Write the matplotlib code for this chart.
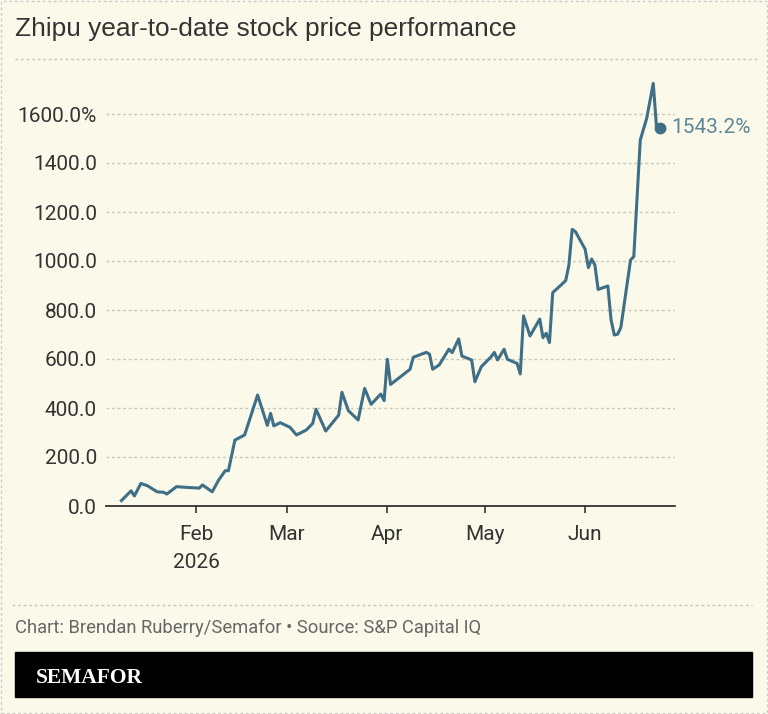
import matplotlib
matplotlib.use('Agg')
import matplotlib.pyplot as plt
from matplotlib.patches import Rectangle
from matplotlib.lines import Line2D
import pandas as pd

# Zhipu year-to-date price change (%)
dates = ['2026-01-09', '2026-01-12', '2026-01-13', '2026-01-15', '2026-01-17',
         '2026-01-20', '2026-01-22', '2026-01-23', '2026-01-26', '2026-01-29',
         '2026-02-02', '2026-02-03', '2026-02-06', '2026-02-08', '2026-02-10',
         '2026-02-11', '2026-02-13', '2026-02-16', '2026-02-20', '2026-02-23',
         '2026-02-24', '2026-02-25', '2026-02-27', '2026-03-02', '2026-03-04',
         '2026-03-07', '2026-03-09', '2026-03-10', '2026-03-13', '2026-03-17',
         '2026-03-18', '2026-03-20', '2026-03-23', '2026-03-25', '2026-03-27',
         '2026-03-30', '2026-03-31', '2026-04-01', '2026-04-02', '2026-04-08',
         '2026-04-09', '2026-04-13', '2026-04-14', '2026-04-15', '2026-04-17',
         '2026-04-20', '2026-04-21', '2026-04-23', '2026-04-24', '2026-04-27',
         '2026-04-28', '2026-04-30', '2026-05-03', '2026-05-04', '2026-05-05',
         '2026-05-07', '2026-05-08', '2026-05-11', '2026-05-12', '2026-05-13',
         '2026-05-15', '2026-05-18', '2026-05-19', '2026-05-20', '2026-05-21',
         '2026-05-22', '2026-05-24', '2026-05-26', '2026-05-27', '2026-05-28',
         '2026-05-29', '2026-06-01', '2026-06-02', '2026-06-03', '2026-06-04',
         '2026-06-05', '2026-06-08', '2026-06-09', '2026-06-10', '2026-06-11',
         '2026-06-12', '2026-06-15', '2026-06-16', '2026-06-18', '2026-06-20',
         '2026-06-22', '2026-06-23', '2026-06-24']
values = [22, 62, 41, 92, 83,
          58, 56, 49, 79, 76,
          73, 86, 58, 106, 144,
          144, 269, 290, 453, 329,
          378, 327, 340, 321, 290,
          310, 337, 395, 306, 371,
          464, 389, 351, 480, 415,
          457, 430, 599, 496, 558,
          607, 627, 620, 558, 576,
          640, 626, 682, 612, 596,
          507, 569, 609, 627, 596,
          640, 599, 582, 539, 776,
          694, 763, 687, 705, 667,
          871, 895, 920, 984, 1129,
          1120, 1048, 973, 1008, 984,
          884, 898, 759, 698, 701,
          728, 1004, 1018, 1494, 1583,
          1725, 1548, 1543.2]

month_ticks = ['2026-02-01', '2026-03-01', '2026-04-01', '2026-05-01', '2026-06-01']
month_labels = ['Feb\n2026', 'Mar', 'Apr', 'May', 'Jun']
y_ticks = [0, 200, 400, 600, 800, 1000, 1200, 1400, 1600]
y_labels = ['0.0', '200.0', '400.0', '600.0', '800.0', '1000.0', '1200.0', '1400.0', '1600.0%']

title = 'Zhipu year-to-date stock price performance'
credit = 'Chart: Brendan Ruberry/Semafor \u2022 Source: S&P Capital IQ'

bg = '#fbf9ea'
line_col = '#3e6f86'
label_col = '#5d8798'
grid_col = '#c9c7b7'
text_col = '#333333'

x = pd.to_datetime(dates)

W, H = 768, 714
fig = plt.figure(figsize=(W / 100, H / 100), dpi=100, facecolor=bg)

ax = fig.add_axes([106 / W, 1 - 506 / H, (675 - 106) / W, (506 - 65) / H])
ax.set_facecolor(bg)
ax.plot(x, values, color=line_col, lw=2.2, solid_joinstyle='round', zorder=3)
ax.plot(x[-1:], values[-1:], 'o', color=line_col, ms=7.5, zorder=4)
ax.annotate('%.1f%%' % values[-1], (x[-1], values[-1]), xytext=(8, 0),
            textcoords='offset points', va='center', ha='left',
            color=label_col, fontsize=15, family='Roboto')

ax.set_ylim(0, 1800)
ax.set_xlim(pd.Timestamp('2026-01-04 06:00'), pd.Timestamp('2026-06-28 17:00'))

ax.set_yticks(y_ticks)
ax.set_yticklabels(y_labels)
ax.set_xticks(pd.to_datetime(month_ticks))
ax.set_xticklabels(month_labels, linespacing=1.6)

ax.tick_params(axis='y', length=0, pad=6.5, labelsize=15, labelcolor=text_col)
ax.tick_params(axis='x', length=5, width=1.2, color=text_col, pad=8.5,
               labelsize=15, labelcolor=text_col)
for lab in ax.get_xticklabels() + ax.get_yticklabels():
    lab.set_family('Roboto')

ax.grid(axis='y', color=grid_col, ls=(0, (2, 2)), lw=1)
ax.grid(axis='x', visible=False)
for s in ['left', 'right', 'top']:
    ax.spines[s].set_visible(False)
ax.spines['bottom'].set_color(text_col)
ax.spines['bottom'].set_linewidth(1.3)
ax.set_axisbelow(True)

# title, separators, credit and logo band
fig.text(15 / W, 1 - 36 / H, title, fontsize=18.9, color=text_col,
         family='Liberation Sans', va='baseline', ha='left')
fig.add_artist(Line2D([15 / W, 757 / W], [1 - 59 / H, 1 - 59 / H], color=grid_col,
                      ls=(0, (2, 2)), lw=1))
fig.add_artist(Line2D([12 / W, 752 / W], [1 - 605 / H, 1 - 605 / H], color=grid_col,
                      ls=(0, (2, 2)), lw=1))
fig.text(15 / W, 1 - 633 / H, credit, fontsize=13.2, color='#666666',
         family='Roboto', va='baseline', ha='left')
fig.add_artist(Rectangle((15 / W, 1 - 697 / H), (752 - 15) / W, 45 / H,
                         transform=fig.transFigure, color='black'))
fig.text(36 / W, 1 - 683 / H, 'SEMAFOR', fontsize=15.5, color='white', weight='bold',
         family='Liberation Serif', va='baseline', ha='left')
fig.add_artist(Rectangle((1 / W, 1 / H), (W - 2) / W, (H - 2) / H,
                         transform=fig.transFigure, fill=False, ec='#cccccc',
                         ls=(0, (2, 2)), lw=1))

fig.savefig('out.png', dpi=100, facecolor=bg)
